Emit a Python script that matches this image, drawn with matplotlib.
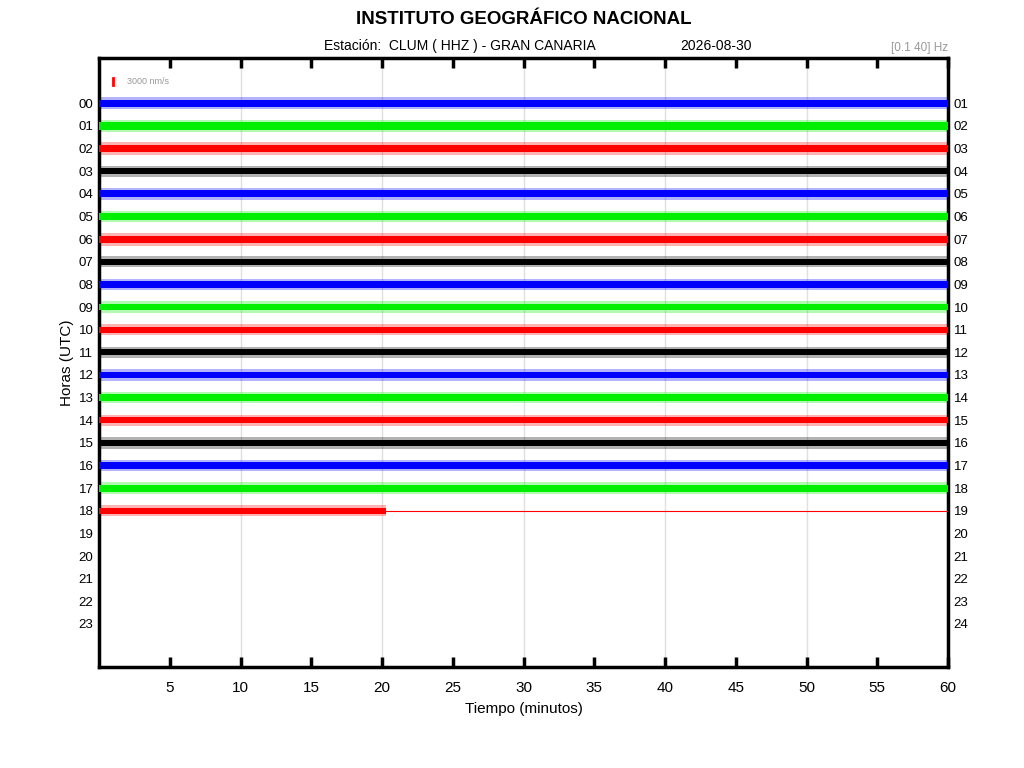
import matplotlib
matplotlib.use("Agg")
import matplotlib.pyplot as plt
import numpy as np

plt.rcParams['font.family'] = ['Liberation Sans', 'DejaVu Sans']

# ---- data ----
hours = list(range(19))                       # hours with data
left_labels = [f"{h:02d}" for h in range(24)]
right_labels = [f"{h+1:02d}" for h in range(24)]
trace_colors = ['#0000ff', '#00ee00', '#ff0000', '#000000']
trace_end = [60]*18 + [20.3]                  # minutes of recorded signal
core_amp = [0.15, 0.16, 0.15, 0.14, 0.15, 0.15, 0.15, 0.13, 0.14, 0.15,
            0.14, 0.13, 0.15, 0.15, 0.14, 0.13, 0.14, 0.15, 0.14]
peak_amp = [0.27, 0.26, 0.27, 0.25, 0.27, 0.25, 0.29, 0.25, 0.25, 0.25,
            0.25, 0.25, 0.25, 0.25, 0.25, 0.25, 0.25, 0.25, 0.24]
xticks = list(range(5, 61, 5))
grid_x = [10, 20, 30, 40, 50]

fig = plt.figure(figsize=(10.24, 7.68), dpi=100)
ax = fig.add_axes([99/1024, 1-667/768, 849/1024, 609/768])

for x in grid_x:
    ax.axvline(x, color='#e0e0e0', lw=1.0, zorder=0)

for h in hours:
    c = trace_colors[h % 4]
    end = trace_end[h]
    xs = np.array([0, end])
    ax.fill_between(xs, h - peak_amp[h], h + peak_amp[h], color=c, alpha=0.3, lw=0, zorder=2)
    ax.fill_between(xs, h - core_amp[h], h + core_amp[h], color=c, lw=0, zorder=3)
    if end < 60:
        ax.plot([end, 60], [h, h], color=c, lw=0.8, zorder=3)

# scale bar
ax.plot([1.0, 1.0], [-1.12, -0.81], color='#ff0000', lw=2, zorder=4)
ax.text(1.95, -0.97, '3000 nm/s', color='#999999', fontsize=6.5, va='center', ha='left')

ax.set_xlim(0, 60)
ax.set_ylim(24.9, -2)
ax.set_xticks(xticks)
ax.set_xticklabels([str(t) for t in xticks], fontsize=11)
ax.tick_params(axis='x', direction='in', length=7, width=2.5, top=True, pad=10)
ax.set_yticks(range(24))
ax.set_yticklabels(left_labels, fontsize=9.5)
ax.tick_params(axis='y', length=0, pad=4)
for s in ax.spines.values():
    s.set_linewidth(2.5)

ax2 = ax.twinx()
ax2.set_ylim(24.9, -2)
ax2.set_yticks(range(24))
ax2.set_yticklabels(right_labels, fontsize=9.5)
ax2.tick_params(axis='y', length=0, pad=4)
for s in ax2.spines.values():
    s.set_visible(False)

ax.set_xlabel('Tiempo (minutos)', fontsize=11, labelpad=5)
ax.set_ylabel('Horas (UTC)', fontsize=11, labelpad=3)

fig.text(524/1024, 1-20/768, 'INSTITUTO GEOGRÁFICO NACIONAL', fontsize=13.5,
         fontweight='bold', ha='center', va='center')
fig.text(460/1024, 1-46/768, 'Estación:  CLUM ( HHZ ) - GRAN CANARIA', fontsize=10,
         ha='center', va='center')
fig.text(716/1024, 1-46/768, '2026-08-30', fontsize=10, ha='center', va='center')
fig.text(948/1024, 1-48/768, '[0.1 40] Hz', fontsize=8.5, color='#999999',
         ha='right', va='center')

fig.savefig('out.png', dpi=100)
